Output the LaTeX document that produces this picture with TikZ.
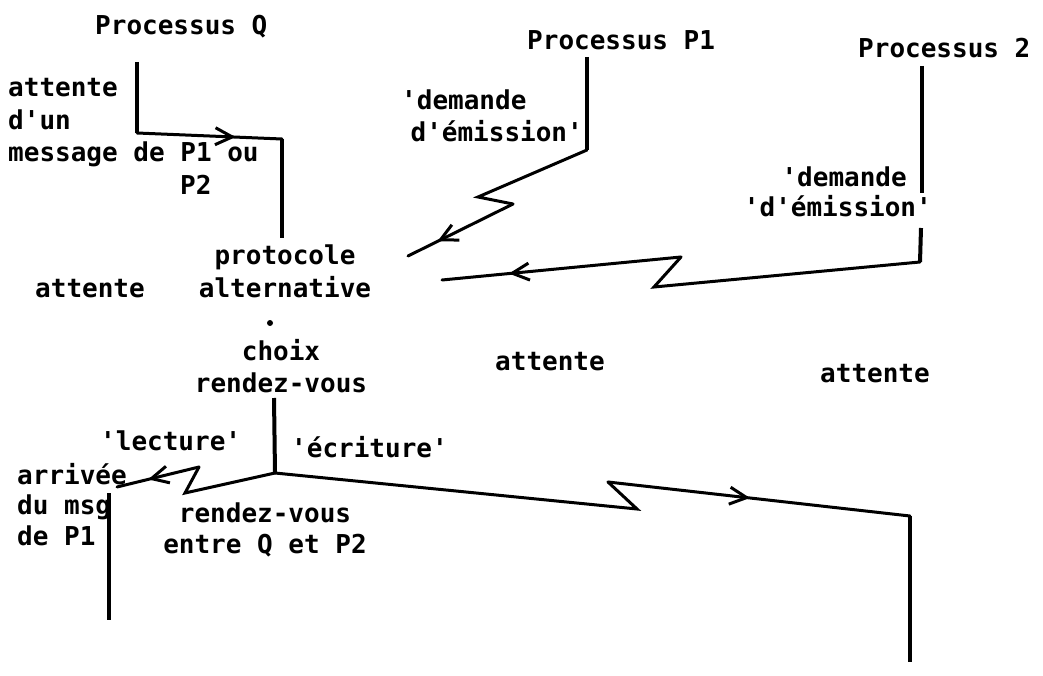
\documentclass[tikz,border=0pt]{standalone}
\usepackage{fontspec}
\setmonofont{DejaVu Sans Mono}
\usetikzlibrary{arrows.meta,decorations.markings}

\begin{document}
\begin{tikzpicture}[x=1pt,y=-1pt,
  lbl/.style={font=\ttfamily\bfseries\fontsize{26}{33}\selectfont, inner sep=0pt},
  lblw/.style={lbl, anchor=base west},
  lble/.style={lbl, anchor=base east},
  lblc/.style={lbl, anchor=base},
  life/.style={line width=4pt},
  msg/.style={line width=3pt, line join=miter, line cap=round},
  midarrow/.style={postaction={decorate}, decoration={markings,
    mark=at position #1 with {\arrow{Straight Barb[length=17pt,width=17pt,line width=3pt]}}}},
]
\useasboundingbox (0,0) rectangle (1043,676);

% ---------- process titles ----------
\node[lblw] (tQ)  at (95,35)  {Processus Q};
\node[lblw] (tP1) at (527,50) {Processus P1};
\node[lblw] (tP2) at (858,58) {Processus 2};

% ---------- process Q: waiting for a message ----------
\node[lblw] (qa1) at (8,97)   {attente};
\node[lblw] (qa2) at (8,130)  {d'un};
\node[lblw] (qa3) at (8,162)  {message de P1 ou};
\node[lblw] (qa4) at (180,195){P2};

\coordinate (q0) at (137,62);
\coordinate (q1) at (137,133);
\coordinate (q2) at (282,139);
\coordinate (q3) at (282,238);
\draw[life] (q0) -- (q1);
\draw[msg, midarrow=0.68] (q1) -- (q2);
\draw[life] (q2) -- (q3);

\node[lblc] (proto) at (285,265) {protocole};
\node[lblc] (alt)   at (285,297) {alternative};
\node[lblw] (attQ)  at (35,297)  {attente};
\fill (270,323) circle (3pt);
\node[lblc] (choix) at (281,360) {choix};
\node[lblc] (rdv)   at (281,392) {rendez-vous};

% ---------- process P1 ----------
\node[lblw] (p1a) at (401,110) {'demande};
\node[lble] (p1b) at (583,142) {d'émission'};
\coordinate (p10) at (587,57);
\coordinate (p11) at (587,150);
\coordinate (p12) at (478,197);
\coordinate (p13) at (513,204);
\coordinate (p14) at (408,256);
\draw[life] (p10) -- (p11);
\draw[msg] (p11) -- (p12) -- (p13);
\draw[msg, midarrow=0.72] (p13) -- (p14);

% ---------- process 2 ----------
\node[lble] (p2a) at (907,187) {'demande};
\node[lble] (p2b) at (932,217) {'d'émission'};
\coordinate (p20) at (922,66);
\coordinate (p21) at (922,193);
\coordinate (p22) at (921,228);
\coordinate (p23) at (920,262);
\coordinate (p24) at (654,287);
\coordinate (p25) at (681,257);
\coordinate (p26) at (442,280);
\draw[life] (p20) -- (p21);
\draw[life] (p22) -- (p23);
\draw[msg] (p23) -- (p24) -- (p25);
\draw[msg, midarrow=0.72] (p25) -- (p26);

% ---------- waiting states ----------
\node[lblw] (att1) at (495,370) {attente};
\node[lblw] (att2) at (820,382) {attente};

% ---------- rendezvous ----------
\coordinate (r0) at (274,398);
\coordinate (rb) at (275,473);
\draw[life] (r0) -- (rb);
\node[lblw] (lect) at (100,450) {'lecture'};
\node[lblw] (ecr)  at (291,457) {'écriture'};

% read branch
\coordinate (l1) at (185,493);
\coordinate (l2) at (199,467);
\coordinate (l3) at (117,487);
\draw[msg] (rb) -- (l1) -- (l2);
\draw[msg, midarrow=0.62] (l2) -- (l3);
\coordinate (ql0) at (109,493);
\coordinate (ql1) at (109,620);
\draw[life] (ql0) -- (ql1);
\node[lblw] (arr1) at (17,484) {arrivée};
\node[lblw] (arr2) at (17,514) {du msg};
\node[lblw] (arr3) at (17,545) {de P1};

\node[lblc] (rv1) at (265,522) {rendez-vous};
\node[lblc] (rv2) at (265,553) {entre Q et P2};

% write branch
\coordinate (w1) at (637,509);
\coordinate (w2) at (608,482);
\coordinate (w3) at (910,516);
\coordinate (w4) at (910,662);
\draw[msg] (rb) -- (w1) -- (w2);
\draw[msg, midarrow=0.47] (w2) -- (w3);
\draw[life] (w3) -- (w4);
\end{tikzpicture}
\end{document}
